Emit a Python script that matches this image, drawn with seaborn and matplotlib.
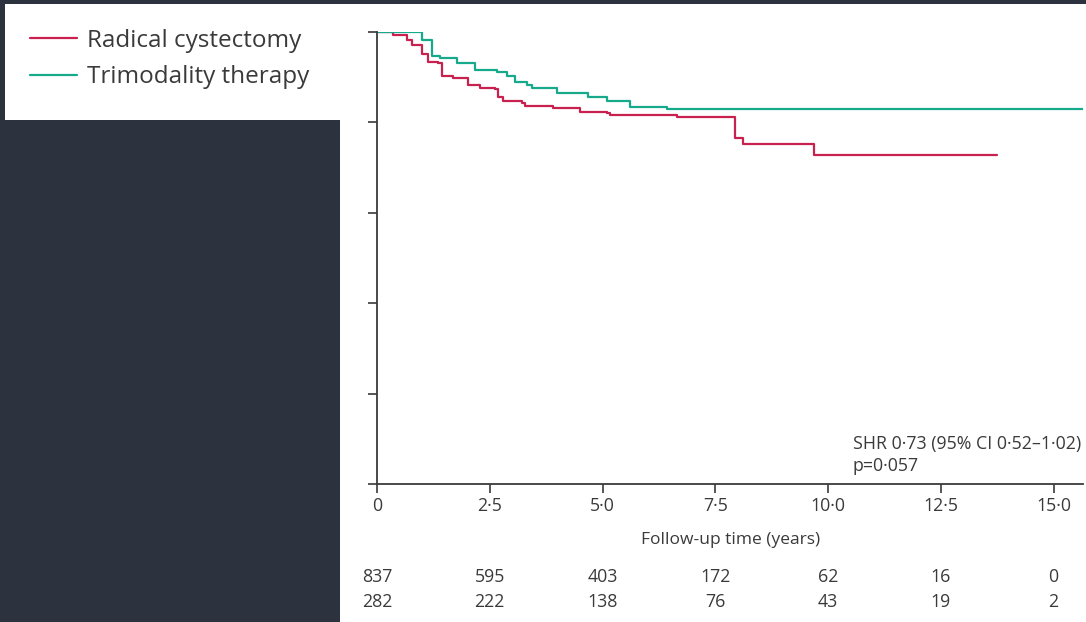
import numpy as np
import pandas as pd
import matplotlib
matplotlib.use("Agg")
import matplotlib.pyplot as plt
from matplotlib.patches import Rectangle
from matplotlib.lines import Line2D
import matplotlib.transforms as mtransforms
import seaborn as sns

# Kaplan-Meier style step curves (time in years, proportion event-free)
rc_time = [0.0, 0.35, 0.67, 0.78, 1.00, 1.13, 1.35, 1.44, 1.69, 2.02, 2.28, 2.62,
           2.68, 2.79, 3.22, 3.28, 3.90, 4.50, 5.10, 5.17, 6.65, 7.94, 8.12, 9.69, 13.75]
rc_surv = [1.000, 0.993, 0.982, 0.971, 0.951, 0.934, 0.931, 0.903, 0.898, 0.883, 0.876, 0.874,
           0.856, 0.847, 0.843, 0.836, 0.832, 0.823, 0.821, 0.816, 0.812, 0.765, 0.752, 0.727, 0.727]

tmt_time = [0.0, 0.78, 1.00, 1.22, 1.40, 1.77, 2.17, 2.66, 2.88, 3.06, 3.33, 3.44,
            3.99, 4.68, 5.10, 5.61, 6.43, 15.65]
tmt_surv = [1.000, 1.000, 0.982, 0.947, 0.942, 0.931, 0.916, 0.912, 0.903, 0.889, 0.883, 0.876,
            0.865, 0.856, 0.847, 0.834, 0.830, 0.830]

groups = ["Radical cystectomy", "Trimodality therapy"]
colors = {"Radical cystectomy": "#c8204f", "Trimodality therapy": "#17a98c"}

risk_times = [0, 2.5, 5.0, 7.5, 10.0, 12.5, 15.0]
risk_rc = [837, 595, 403, 172, 62, 16, 0]
risk_tmt = [282, 222, 138, 76, 43, 19, 2]

x_tick_labels = ["0", "2·5", "5·0", "7·5", "10·0", "12·5", "15·0"]
y_ticks = [0.0, 0.2, 0.4, 0.6, 0.8, 1.0]

annotation = "SHR 0·73 (95% CI 0·52–1·02)\np=0·057"
xlabel = "Follow-up time (years)"

df = pd.concat([
    pd.DataFrame({"time": rc_time, "surv": rc_surv, "group": groups[0]}),
    pd.DataFrame({"time": tmt_time, "surv": tmt_surv, "group": groups[1]}),
], ignore_index=True)

sns.set_theme(style="white")
plt.rcParams["font.family"] = ["Open Sans", "DejaVu Sans"]

W, H, DPI = 1086, 622, 100
fig = plt.figure(figsize=(W / DPI, H / DPI), dpi=DPI)
bg = "#2d333e"
fig.patch.set_facecolor(bg)

# white panels: legend card and plotting card
fig.patches.append(Rectangle((5 / W, 1 - 120 / H), 335 / W, 116 / H,
                             transform=fig.transFigure, facecolor="white",
                             edgecolor="none", zorder=-5))
fig.patches.append(Rectangle((340 / W, 0), (W - 340) / W, 1 - 4 / H,
                             transform=fig.transFigure, facecolor="white",
                             edgecolor="none", zorder=-5))

ax_left, ax_right, ax_top, ax_bot = 377, 1083, 32, 484
ax = fig.add_axes([ax_left / W, 1 - ax_bot / H, (ax_right - ax_left) / W, (ax_bot - ax_top) / H])
ax.set_facecolor("none")
ax.set_zorder(2)

sns.lineplot(data=df, x="time", y="surv", hue="group", palette=colors,
             drawstyle="steps-post", estimator=None, sort=False,
             linewidth=1.6, legend=False, ax=ax)

ax.set_xlim(0, 15.65)
ax.set_ylim(0, 1.0)
ax.set_xticks(risk_times)
ax.set_xticklabels(x_tick_labels)
ax.set_yticks(y_ticks)
ax.set_yticklabels([])
ax.set_xlabel("")
ax.set_ylabel("")

axis_col = "#3a3a3a"
for side in ["top", "right"]:
    ax.spines[side].set_visible(False)
for side in ["left", "bottom"]:
    ax.spines[side].set_color(axis_col)
    ax.spines[side].set_linewidth(1.3)
ax.tick_params(axis="both", direction="out", length=6.5, width=1.2, color=axis_col,
               labelcolor="#3a3a3a", labelsize=12.8, pad=3, left=True, bottom=True)

ax.text(0.674, 0.108, annotation, transform=ax.transAxes, ha="left", va="top",
        fontsize=12.8, color="#3a3a3a", linespacing=1.3)

fig.text(731 / W, 1 - 540 / H, xlabel, ha="center", va="center",
         fontsize=12.5, color="#3a3a3a")

trans = mtransforms.blended_transform_factory(ax.transData, fig.transFigure)
for t, a, b in zip(risk_times, risk_rc, risk_tmt):
    ax.text(t, 1 - 577 / H, str(a), transform=trans, ha="center", va="center",
            fontsize=12.8, color="#3a3a3a", clip_on=False)
    ax.text(t, 1 - 602 / H, str(b), transform=trans, ha="center", va="center",
            fontsize=12.8, color="#3a3a3a", clip_on=False)

handles = [Line2D([], [], color=colors[g], linewidth=1.6) for g in groups]
fig.legend(handles, groups, loc="upper left", bbox_to_anchor=(30 / W, 1 - 29 / H),
           frameon=False, borderpad=0, borderaxespad=0, handlelength=1.95,
           handletextpad=0.4, labelspacing=0.5, fontsize=17.5,
           labelcolor="#3a3a3a")

fig.savefig("out.png", dpi=DPI, facecolor=fig.get_facecolor())
